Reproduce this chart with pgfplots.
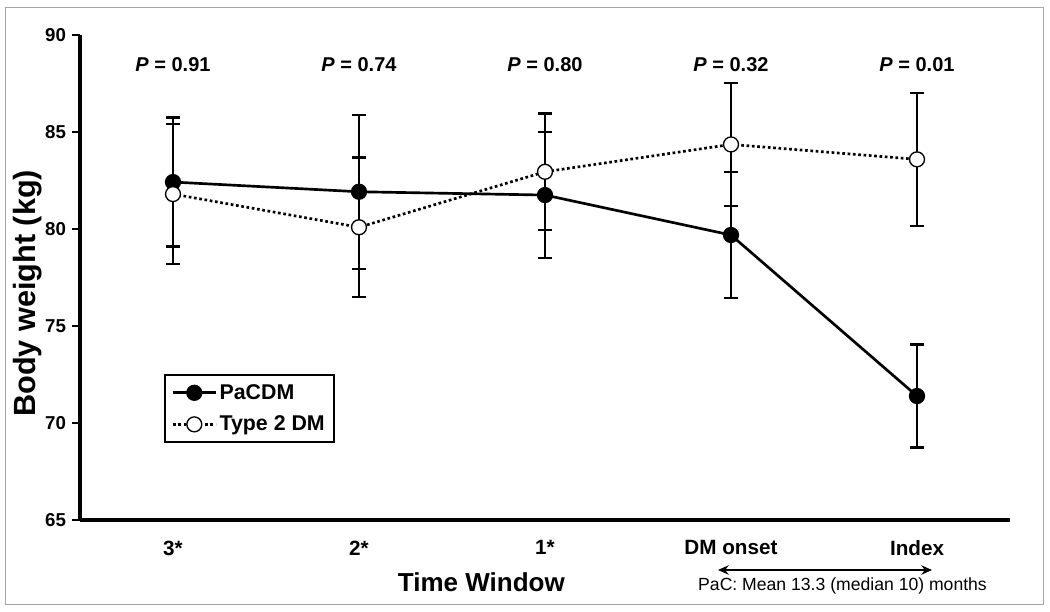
\documentclass[border=0pt]{standalone}
\usepackage{pgfplots}
\pgfplotsset{compat=1.18}
\usepackage{fontspec}
\setmainfont{Liberation Sans}
\usetikzlibrary{arrows.meta}
\begin{document}
\begin{tikzpicture}
\useasboundingbox (-60pt,-68.25pt) rectangle (727.5pt,390pt);
\draw[line width=0.75pt, black!35] (-55.5pt,-63pt) rectangle (722.25pt,384pt);
\begin{axis}[
  scale only axis,
  width=697.5pt, height=363.75pt,
  xmin=-0.5, xmax=4.5, ymin=65, ymax=90,
  axis x line=bottom, axis y line=left,
  axis line style={-, line width=2.6pt},
  xtick={0,1,2,3,4},
  xticklabels={3*,2*,1*,DM onset,Index},
  xtick style={draw=none},
  ytick={65,70,75,80,85,90},
  ytick style={line width=1.6pt, black},
  tick align=outside,
  major tick length=6pt,
  /pgf/number format/assume math mode=true,
  xticklabel style={font=\bfseries\fontsize{15.5}{18}\selectfont, yshift=-6pt},
  yticklabel style={font=\bfseries\fontsize{14}{16}\selectfont, xshift=-1pt},
  clip=false,
  legend style={at={(0.0903,0.301)}, anchor=north west, draw=black, line width=1.5pt,
    font=\bfseries\fontsize{16}{19}\selectfont, row sep=7pt, inner xsep=5pt, inner ysep=5pt},
  legend cell align=left,
  legend image code/.code={\draw[mark repeat=2,mark phase=2,#1] plot coordinates {(0pt,0pt)(16pt,0pt)(32pt,0pt)};},
]
\addplot[black, line width=2pt, mark=*, mark size=5.6pt, mark options={fill=black, solid, line width=1pt},
  error bars/.cd, y dir=both, y explicit, error bar style={line width=1.8pt, solid},
  error mark options={rotate=90, mark size=5.25pt, line width=1.8pt}]
  coordinates {
  (0,82.42) +- (0,3.32)
  (1,81.92) +- (0,3.97)
  (2,81.75) +- (0,3.24)
  (3,79.69) +- (0,3.24)
  (4,71.39) +- (0,2.65)
  };
\addlegendentry{PaCDM}
\addplot[black, line width=2pt, dash pattern=on 2pt off 2pt, mark=*, mark size=5.6pt,
  mark options={fill=white, solid, line width=1pt},
  error bars/.cd, y dir=both, y explicit, error bar style={line width=1.8pt, solid},
  error mark options={rotate=90, mark size=5.25pt, line width=1.8pt, solid}]
  coordinates {
  (0,81.80) +- (0,3.60)
  (1,80.09) +- (0,3.60)
  (2,82.95) +- (0,3.00)
  (3,84.36) +- (0,3.16)
  (4,83.59) +- (0,3.43)
  };
\addlegendentry{Type 2 DM}
\node[font=\bfseries\fontsize{15}{18}\selectfont] at (axis cs:0,88.45) {\textit{P} = 0.91};
\node[font=\bfseries\fontsize{15}{18}\selectfont] at (axis cs:1,88.45) {\textit{P} = 0.74};
\node[font=\bfseries\fontsize{15}{18}\selectfont] at (axis cs:2,88.45) {\textit{P} = 0.80};
\node[font=\bfseries\fontsize{15}{18}\selectfont] at (axis cs:3,88.45) {\textit{P} = 0.32};
\node[font=\bfseries\fontsize{15}{18}\selectfont] at (axis cs:4,88.45) {\textit{P} = 0.01};
\end{axis}
\node[font=\bfseries\fontsize{23}{27}\selectfont, rotate=90] at (-39pt,170pt) {Body weight (kg)};
\node[font=\bfseries\fontsize{19.5}{23}\selectfont] at (301pt,-47pt) {Time Window};
\draw[line width=1.2pt, {Stealth[length=8pt,width=7pt]}-{Stealth[length=8pt,width=7pt]}] (478.5pt,-37.5pt) -- (639pt,-37.5pt);
\node[font=\fontsize{13.2}{16}\selectfont] at (571.9pt,-49.5pt) {PaC: Mean 13.3 (median 10) months};
\end{tikzpicture}
\end{document}
